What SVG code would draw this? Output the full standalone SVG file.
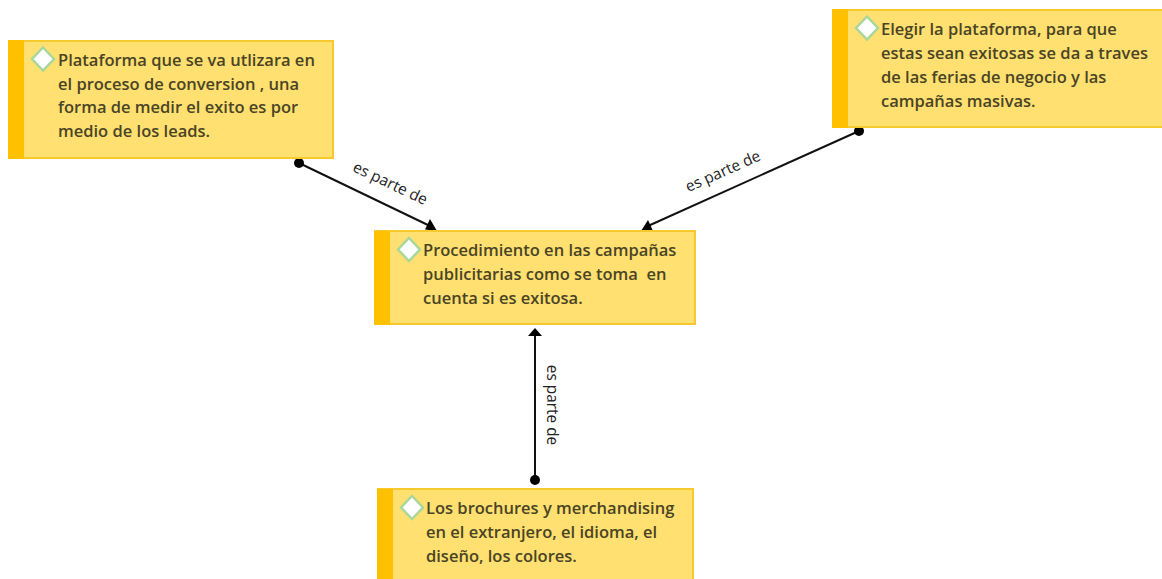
<svg xmlns="http://www.w3.org/2000/svg" width="1162" height="579" viewBox="0 0 1162 579">
<style>
.box{fill:#ffe070;stroke:#f6c92f;stroke-width:2}
.bar{fill:#ffc000}
.dia{fill:#fff;stroke:#a9d79a;stroke-width:2.5}
.t{font-family:"Open Sans","Noto Sans",sans-serif;font-size:16.5px;font-weight:600;fill:#4a4426;white-space:pre}
.c{stroke:#111;stroke-width:2;fill:none}
.l{font-family:"Open Sans","Noto Sans",sans-serif;font-size:15.400px;fill:#222}
.dot{fill:#000}
.head{fill:#000}
</style>
<rect width="1162" height="579" fill="#fff"/>
<g id="connectors">
<path class="c" d="M299 163L430 226"/><circle class="dot" cx="299" cy="163" r="5"/><path class="head" d="M437 231L425 229.500L430 219Z"/>
<path class="c" d="M859 131L648 226"/><circle class="dot" cx="859" cy="131" r="5"/><path class="head" d="M641 231L648 220L653 231Z"/>
<path class="c" d="M535 480V334"/><circle class="dot" cx="535" cy="480" r="5"/><path class="head" d="M535 328L542 336H528Z"/>
<text class="l" text-anchor="middle" transform="translate(388 188) rotate(25.500)">es parte de</text>
<text class="l" text-anchor="middle" transform="translate(725 176) rotate(-24)">es parte de</text>
<text class="l" text-anchor="middle" transform="translate(547 405) rotate(90)">es parte de</text>
</g>
<g id="node-plataforma">
<rect class="box" x="9" y="41" width="324" height="117"/><rect class="bar" x="8" y="40" width="16" height="119"/>
<path class="dia" d="M43 47.500L54 59L43 70.500L32 59Z"/>
<text class="t"><tspan x="58" y="66">Plataforma que se va utlizara en</tspan><tspan x="58" y="90">el proceso de conversion , una</tspan><tspan x="58" y="113">forma de medir el exito es por</tspan><tspan x="58" y="137">medio de los leads.</tspan></text>
</g>
<g id="node-elegir">
<rect class="box" x="833" y="10" width="331" height="117"/><rect class="bar" x="832" y="9" width="16" height="119"/>
<path class="dia" d="M867 16.500L878 28L867 39.500L856 28Z"/>
<text class="t"><tspan x="881" y="35">Elegir la plataforma, para que</tspan><tspan x="881" y="59">estas sean exitosas se da a traves</tspan><tspan x="881" y="83">de las ferias de negocio y las</tspan><tspan x="881" y="107">campañas masivas.</tspan></text>
</g>
<g id="node-procedimiento">
<rect class="box" x="375" y="231" width="320" height="93"/><rect class="bar" x="374" y="231" width="16" height="94"/>
<path class="dia" d="M409 238L420 249.500L409 261L398 249.500Z"/>
<text class="t"><tspan x="423" y="256">Procedimiento en las campañas</tspan><tspan x="423" y="280">publicitarias como se toma  en</tspan><tspan x="423" y="304">cuenta si es exitosa.</tspan></text>
</g>
<g id="node-brochures">
<rect class="box" x="378" y="489" width="315" height="94"/><rect class="bar" x="377" y="489" width="16" height="94"/>
<path class="dia" d="M412 496L423 507.500L412 519L401 507.500Z"/>
<text class="t"><tspan x="426" y="514">Los brochures y merchandising</tspan><tspan x="426" y="538">en el extranjero, el idioma, el</tspan><tspan x="426" y="562">diseño, los colores.</tspan></text>
</g>
</svg>
